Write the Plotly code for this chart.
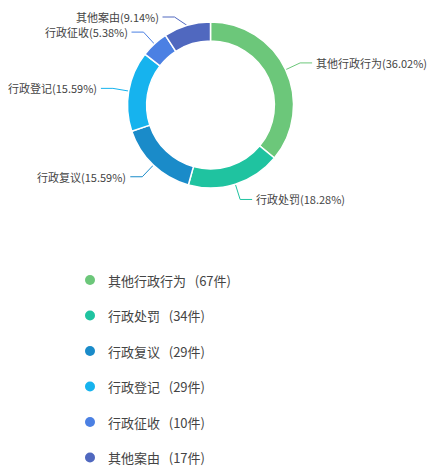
import math
import plotly.graph_objects as go

# data
names = ["其他行政行为", "行政处罚", "行政复议", "行政登记", "行政征收", "其他案由"]
counts = [67, 34, 29, 29, 10, 17]
colors = ["#6cc77a", "#1fc3a0", "#1a8bc9", "#16b3ee", "#4b80e3", "#5068bf"]

# page body has an 8px margin, so the figure is a bit smaller than the window
W, H = 420, 460
cx, cy, r = 202.5, 97, 83   # ring centre / outer radius in px
font = "Noto Sans CJK SC"

total = sum(counts)
pct = [c / total * 100 for c in counts]

fig = go.Figure()
fig.add_trace(
    go.Pie(
        labels=names,
        values=counts,
        sort=False,
        direction="clockwise",
        rotation=0,
        hole=0.77,
        marker=dict(colors=colors, line=dict(color="white", width=1.5)),
        textinfo="none",
        showlegend=False,
        domain=dict(
            x=[(cx - r) / W, (cx + r) / W],
            y=[1 - (cy + r) / H, 1 - (cy - r) / H],
        ),
    )
)

# leader lines + outside labels, angles taken from the values
annotations = []
acc = 0
top = 9
for name, c, p, col in zip(names, counts, pct, colors):
    mid = (acc + c / 2) / total * 2 * math.pi
    acc += c
    sx, sy = cx + r * math.sin(mid), cy - r * math.cos(mid)
    ex, ey = cx + (r + 16) * math.sin(mid), cy - (r + 16) * math.cos(mid)
    if ey < top:  # keep the top label inside the page
        ex = sx + (ex - sx) * (sy - top) / (sy - ey) - 10
        ey = top
    side = 1 if math.sin(mid) >= 0 else -1
    hx = ex + 12 * side
    fig.add_trace(
        go.Scatter(
            x=[sx, ex, hx], y=[sy, ey, ey], mode="lines",
            line=dict(color=col, width=1), hoverinfo="skip", showlegend=False,
        )
    )
    annotations.append(
        dict(
            x=hx + 3 * side, y=ey, xref="x", yref="y",
            text=f"{name}({p:.2f}%)", showarrow=False,
            xanchor="left" if side > 0 else "right", yanchor="middle",
            borderpad=0,
            font=dict(family=font, size=11, color="#444444"),
        )
    )

# legend drawn below the ring
lx, ly0, step = 82, 272, 35.5
fig.add_trace(
    go.Scatter(
        x=[lx] * len(names),
        y=[ly0 + step * i for i in range(len(names))],
        mode="markers",
        marker=dict(size=10, color=colors),
        hoverinfo="skip",
        showlegend=False,
    )
)
for i, (name, c) in enumerate(zip(names, counts)):
    annotations.append(
        dict(
            x=lx + 17, y=ly0 + step * i, xref="x", yref="y",
            text=f"{name}\u00a0\u00a0\u00a0({c}件)", showarrow=False,
            xanchor="left", yanchor="middle", borderpad=0,
            font=dict(family=font, size=13, color="#444444"),
        )
    )

fig.update_layout(
    width=W,
    height=H,
    margin=dict(l=0, r=0, t=0, b=0),
    paper_bgcolor="white",
    plot_bgcolor="white",
    xaxis=dict(range=[0, W], visible=False, fixedrange=True, domain=[0, 1]),
    yaxis=dict(range=[H, 0], visible=False, fixedrange=True, domain=[0, 1]),
    annotations=annotations,
)

fig.write_html("out.html")
